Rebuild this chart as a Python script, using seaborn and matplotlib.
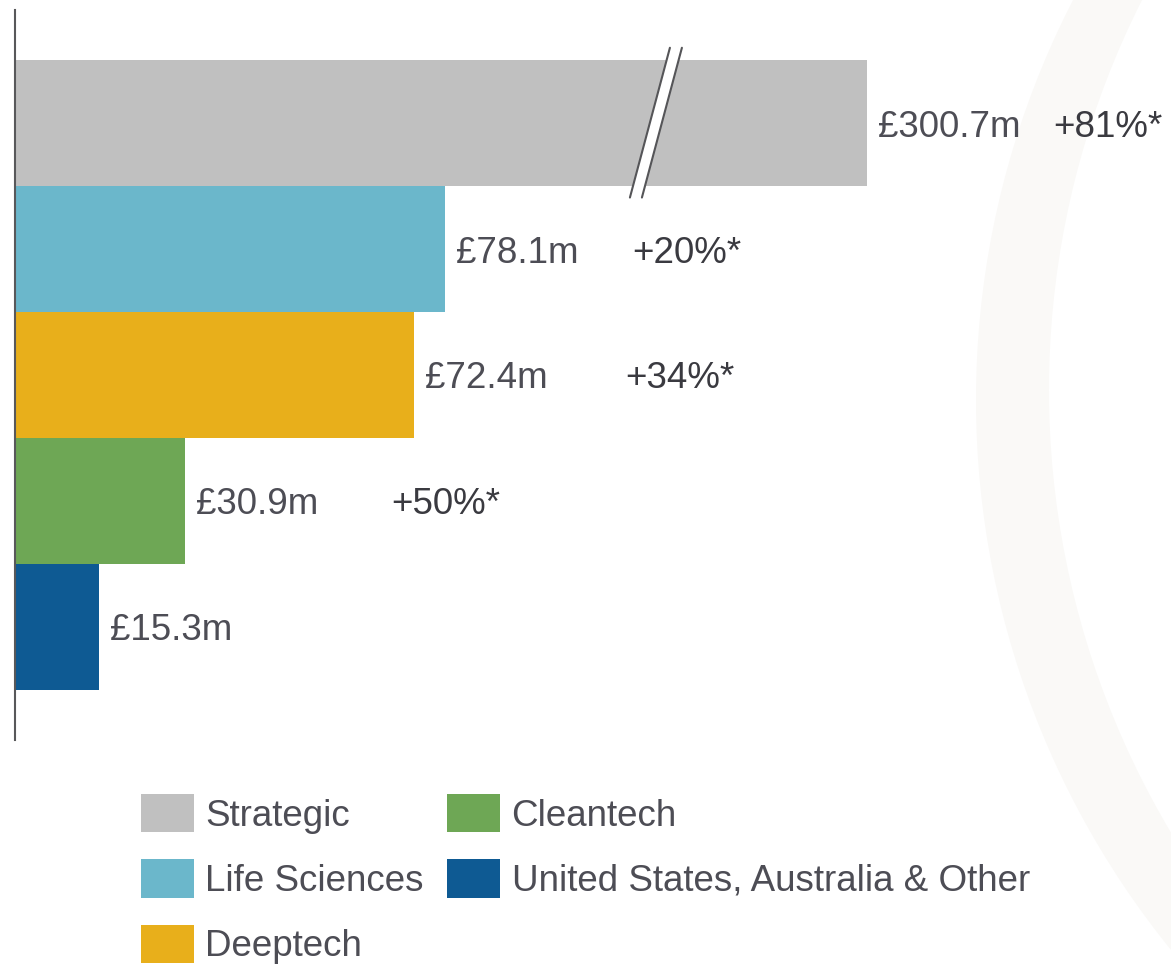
import numpy as np
import pandas as pd
import matplotlib.pyplot as plt
from matplotlib.patches import Patch, Ellipse
import seaborn as sns

categories = ['Strategic', 'Life Sciences', 'Deeptech', 'Cleantech',
              'United States, Australia & Other']
values = [300.7, 78.1, 72.4, 30.9, 15.3]          # £m
growth = ['+81%*', '+20%*', '+34%*', '+50%*', None]
colors = ['#c0c0c0', '#6bb7cb', '#e8af1b', '#6ea755', '#0e5a93']

# broken axis: anything beyond BREAK is squashed
BREAK = 116
SQUASH = 0.209
pct_gap = [186, 187, 211, 206, 0]   # pixels from bar end to growth label

def squash(v):
    return v if v <= BREAK else BREAK + (v - BREAK) * SQUASH

df = pd.DataFrame({'category': categories, 'value': values})
df['shown'] = df['value'].apply(squash)

sns.set_style('white')
plt.rcParams['font.family'] = ['Liberation Sans', 'DejaVu Sans']
txt = '#4d4d55'

W, H = 1171, 964
fig = plt.figure(figsize=(W / 100, H / 100), dpi=100)

# faint ring in the background
fig.add_artist(Ellipse((1849 / W, 1 - 400 / H), 2 * 873 / W, 2 * 873 / H,
                       transform=fig.transFigure, color='#faf9f7', lw=0, zorder=-2))
fig.add_artist(Ellipse((1913 / W, 1 - 390 / H), 2 * 864 / W, 2 * 864 / H,
                       transform=fig.transFigure, color='white', lw=0, zorder=-1))

ax = fig.add_axes([15 / W, 1 - 740 / H, (W - 15) / W, 730 / H])
ax.patch.set_visible(False)

sns.barplot(data=df, x='shown', y='category', hue='category', palette=colors,
            orient='h', width=1.0, legend=False, ax=ax, saturation=1,
            linewidth=0)

ax.set_xlim(0, (W - 15) / 5.51)
ax.set_ylim(4.9, -0.9)
ax.set_xlabel('')
ax.set_ylabel('')
ax.set_xticks([])
ax.set_yticks([])
for s in ['top', 'right', 'bottom']:
    ax.spines[s].set_visible(False)
ax.spines['left'].set_color('#58585a')
ax.spines['left'].set_linewidth(1.5)
ax.spines['left'].set_zorder(10)

for i, row in df.iterrows():
    ax.annotate(f"£{row['value']:.1f}m", (row['shown'], i), xytext=(11, -4),
                textcoords='offset pixels', va='center', ha='left',
                fontsize=26.5, color=txt)
    if growth[i]:
        ax.annotate(growth[i], (row['shown'], i), xytext=(pct_gap[i], -4),
                    textcoords='offset pixels', va='center', ha='left',
                    fontsize=26.5, color='#3a3a40')

# break marks on the Strategic bar
x0 = BREAK - 4.4
dx = 40 / 5.51
gap = 12 / 5.51
ax.fill([x0, x0 + gap, x0 + gap + dx, x0 + dx], [0.59, 0.59, -0.6, -0.6],
        color='white', zorder=5, lw=0)
for off in [0, gap]:
    ax.plot([x0 + off, x0 + off + dx], [0.59, -0.6], color='#555558',
            lw=1.5, zorder=6, clip_on=False)

handles = [Patch(facecolor=c, edgecolor='none') for c in colors]
fig.legend(handles, categories, loc='upper left',
           bbox_to_anchor=(141 / W, 1 - 794 / H), ncol=2, frameon=False,
           fontsize=26.5, labelcolor=txt, handlelength=1.43, handleheight=1.23,
           handletextpad=0.32, columnspacing=0.63, labelspacing=0.70,
           borderpad=0, borderaxespad=0)

fig.savefig('out.png', dpi=100)
